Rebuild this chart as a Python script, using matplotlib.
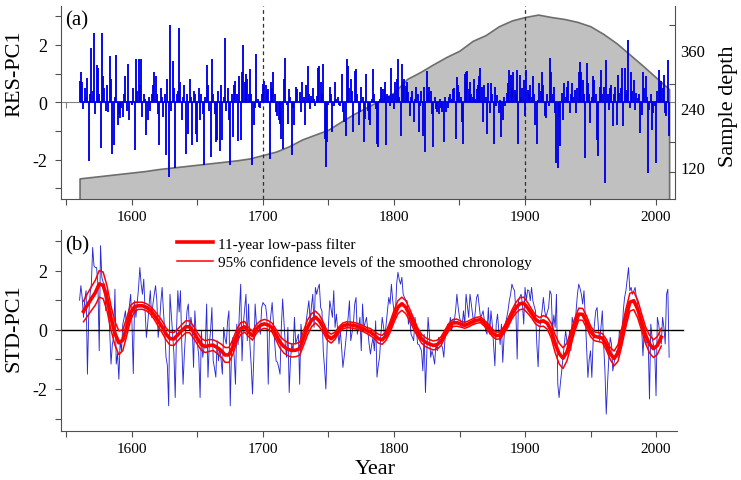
import numpy as np
import matplotlib
matplotlib.use("Agg")
import matplotlib.pyplot as plt

plt.rcParams['font.family'] = ['Liberation Serif', 'DejaVu Serif']
plt.rcParams['axes.unicode_minus'] = False

# ---- data ----
first_year = 1560

# (a) residual chronology, one value per year from 1560
res_pc1 = [
    0.75, 1.05, 0.7, -0.25, 0.5, 0.2, 0.85, -2.05, 0.3, 1.9,
    0.4, 2.4, -0.4, 1.3, 1.2, 0.3, -1.6, 2.4, 0.9, 0.5,
    -0.3, 0.6, -0.35, 1.6, 0.8, -1.8, -1.5, 0.2, 1.65, -0.8,
    -0.4, -0.55, -0.2, -0.5, 0.3, 0.9, -0.3, 1.35, -0.6, 0.05,
    -0.1, 0.5, -1.65, 1.5, 0.4, 1.5, 0.6, 1.5, -0.5, 0.3,
    0.1, -1.15, -0.6, 0.2, -0.3, 0.3, 0.6, 1.05, 0.9, 0.3,
    -0.4, -1.5, 0.5, 0.2, -0.5, 0.3, -1.85, 0.8, -2.6, 2.7,
    -0.3, 1.45, 0.5, -2.3, 0.3, 0.4, 2.6, 0.7, -0.6, 0.2,
    0.6, -1.8, 0.3, -1.1, 0.8, 0.2, -1.5, 0.4, 0.3, -1.1,
    -1.4, 0.5, -0.6, 0.3, -0.4, -2.2, 0.2, 1.3, 0.6, -0.3,
    -1.9, 1.5, 0.3, -0.4, -1.4, -1.3, 0.4, -1.7, 0.6, -1.3,
    0.2, 2.25, -0.3, 0.5, -0.6, -2.2, 0.3, -1.2, 0.6, 0.75,
    0.3, -1.35, 0.9, -1.3, 1.04, 2.0, 0.7, 1.0, 0.8, 0.3,
    1.15, 0.3, -2.2, -0.8, -0.2, 1.68, 0.1, -0.15, -0.2, 0.3,
    0.64, 0.75, 0.6, 0.4, 0.45, -1.97, 0.7, 0.5, 1.04, 0.3,
    -0.35, -0.46, -0.6, -0.75, -1.27, -1.62, 0.81, 1.56, -0.1, -0.75,
    0.45, 0.2, -1.85, -0.2, -0.8, 0.52, 0.45, 0.0, 0.35, -0.35,
    0.69, 0.2, -0.8, 0.6, 1.27, 0.3, -0.23, 0.23, 0.5, 0.1,
    -0.12, 0.23, 1.21, 1.27, 0.7, 0.3, 1.33, -1.27, -2.25, -1.4,
    -0.1, 0.52, 0.3, -1.04, -0.12, 0.69, 0.12, 0.2, -0.1, -0.12,
    0.98, -0.35, -0.7, -1.16, 1.5, 1.27, 0.5, 0.8, 0.4, -1.04,
    1.1, 1.16, 0.3, -0.8, -0.35, 0.52, 0.2, -1.39, -0.58, 0.98,
    -0.3, -0.6, -0.8, 0.1, 1.16, 0.3, -0.23, -1.45, -1.56, 0.1,
    0.52, 0.46, 0.46, 0.69, -1.5, 0.3, 0.23, -0.12, 1.21, 0.3,
    -0.23, 0.69, 0.81, 1.5, 0.2, -1.16, 1.33, 0.69, 0.81, 0.58,
    0.69, 0.35, -0.46, 0.2, 0.4, -0.69, 0.1, 0.52, 0.3, -1.04,
    -0.12, 0.4, -1.16, 0.52, -1.73, 1.1, 0.3, 0.52, 0.4, -0.4,
    -1.56, 0.2, -0.23, -0.35, -0.4, 0.1, -0.2, -0.35, -1.39, 0.2,
    -0.35, -0.2, 0.2, 0.29, 0.1, 0.46, 0.5, -1.27, 0.87, 0.6,
    0.35, 0.2, -0.7, -1.45, 1.0, 1.04, 1.1, 0.46, 0.69, 0.3,
    0.2, 0.8, 0.1, 0.46, 0.6, 0.9, 1.2,
    0.55, -0.7, 0.6, 0.2, -1.1, 0.66, -0.37, 0.67, 0.3, -1.45,
    0.55, -0.14, 0.25, -0.37, 0.09, -1.2, -0.6, 0.2, -0.14, 0.32,
    0.66, 1.13, 0.95, 0.5, 1.07, 0.44, 0.3, 1.13, -1.45, 0.95,
    0.2, 0.5, 0.78, -0.49, 1.13, 0.44, 0.3, 0.61, 0.2, 0.9,
    0.3, -0.78, -1.47, 0.09, 0.67, 0.4, 1.07, 0.61, -0.49, -0.55,
    0.3, -0.14, 1.53, 1.07, 0.3, 0.55, -0.37, -2.1, -2.28, -0.5,
    -1.53, 0.32, -0.6, 0.67, 0.2, 0.55, 0.73, -0.37, 0.3, 0.67,
    0.2, 0.44, -0.37, 0.5, 1.07, 1.42, 1.07, 0.78, 0.3, -1.93,
    1.36, 0.67, 0.3, -0.72, 0.2, 0.9, 0.78, 0.3, -1.3, -1.87,
    0.55, 1.13, 0.3, 0.55, -2.8, 1.49, 0.3, -0.26, 0.49, 0.61,
    -0.84, 0.3, 0.55, -0.78, 0.95, 0.32, 0.5, 1.2, -0.84, 1.2,
    0.3, 0.44, 2.16, -0.2, 1.07, 0.4, 0.78, -0.26, 0.32, 0.15,
    0.3, -1.07, -0.43, 1.07, 0.5, 0.9, 0.2, -2.45, -0.26, 0.3,
    -0.95, -0.37, -0.14, -2.1, 0.4, 1.13, 0.67, 0.73, 0.5, 0.95,
    -0.37, -0.49, 1.48, -1.18,
]

# (b) standard chronology, one value per year from 1560
std_pc1 = [
    1.0, 1.49, 1.09, 0.42, 1.04, 1.32, -1.5, 0.5, 1.2, 1.54,
    2.78, 2.16, 2.1, 2.1, 1.54, -0.71, 2.84, 1.77, 1.6, 1.54,
    0.64, 1.37, 0.7, -0.03, -1.16, -0.5, -0.26, 1.37, -1.16, -0.8,
    -1.67, -0.37, -0.71, 0.19, 0.4, 0.64, -0.03, 0.53, 0.8, 1.2,
    0.2, -1.48, 0.98, 0.42, 0.9, 1.4, 2.1, 1.54, 1.2, 1.71,
    0.64, -0.26, 0.19, 0.8, 1.32, 0.42, 0.87, 1.2, 1.49, 0.98,
    -0.26, 0.19, 0.9, 1.43, 0.64, -0.03, -0.93, -1.2, -2.57, 1.2,
    0.53, -0.15, -0.8, -2.29, -0.03, 1.32, 0.6, 1.32, -0.48, -1.84,
    -0.8, -0.03, 0.64, 0.87, -0.03, 0.42, 0.1, -1.27, 0.64, -0.15,
    -0.48, -0.9, -2.29, -0.03, -0.93, -0.6, -0.48, 0.87, -1.61, -0.5,
    -0.03, 0.75, -1.05, -1.3, -1.6, -0.37, -1.05, -0.6, -1.0, -1.5,
    0.08, -0.3, -0.48, 0.3, 0.64, -2.57, -0.71, -0.26, -0.9, -1.84,
    0.19, -0.5,
    0.64, 1.54, -1.05, 0.19, 0.7, 1.2, -0.37, 0.87, -0.48, -1.2,
    -2.17, -0.93, 0.87, 0.19, 0.1, 0.08, -0.15, 0.75, 0.92, 0.85,
    0.81, 0.42, -1.84, 0.08, 0.5, 0.92, 0.19, -0.48, -1.05, -1.1,
    -1.27, -1.5, 0.08, 1.04, 0.3, -0.48, -0.93, 0.08, -2.12, -1.0,
    -0.48, -0.71, 0.42, -0.48, -0.3, -0.15, -1.84, 0.19, -0.48, -0.3,
    -0.1, 0.3, 0.64, 0.98, 0.3, 0.8, 1.2, 0.08, 1.43, 1.2,
    1.4, 1.54, 0.75, 0.64, -0.71, -1.3, -2.0, -0.48, 0.19, 0.98,
    0.7, 0.42, 1.32, 0.08, 0.53, 0.0, -0.48, -0.03, -0.6, -1.27,
    -0.9, -0.48, 0.0, 0.42, 0.98, -0.37, -0.1, 0.19, 0.87, 1.09,
    -0.15, 0.1, 0.42, -0.71, 0.87, 0.08, 0.25, 0.42, -0.03, -0.48,
    -0.82, -0.5, -0.26, -0.71, 0.3, -1.6, -1.2, -0.93, -0.15, 0.42,
    0.1, -0.26, 0.2, 0.64, 1.09, 0.87, 1.54, 1.0, 0.64, 0.42,
    1.54, 1.94, 1.7, 1.54, 1.77, 1.2, 1.09, 1.0, 0.98, 0.19,
    0.42, -0.15, -0.25, -0.37, 0.42, 0.08, -0.48, -0.5, -0.6, -0.71,
    -1.39, -0.15, -2.12, -0.8, 0.42, -0.15, -0.93, -0.71, -0.9, -1.16,
    -0.48, -0.71, -0.26, -0.35, -0.48, -0.6, -0.93, -0.26, 0.0, 0.19,
    -0.03, 0.42, -0.03, 0.3, 0.3, 0.64, 1.2, 0.75, 0.42, 0.25,
    0.08, 0.64, 0.19, 1.2, 0.8, 0.42, 1.2, 0.87, 0.5, 0.19,
    0.6, 1.09, 1.2, 0.8, 0.42, 0.5, 0.64, 0.3, -0.03, -0.15,
    0.75, -0.15, 0.64, 0.19, -0.5, -1.22, 0.19, 0.53, -0.03, -0.5,
    0.19, -1.1, -0.26, 0.19, 0.4, 0.64, 0.98, 1.2, 1.54, 1.4,
    1.32, 0.64, -0.99, 0.98, 1.1, 1.2, 0.87, 0.19, 1.43, 1.0, 1.35,
    1.32, 0.98, 1.43, 0.98, 0.8, 0.64, -0.48, -1.25, -0.03, 0.3,
    0.64, 1.09, 0.64, 0.42, 0.6, 0.75, 1.32, 1.2, -0.03, 0.5,
    0.08, 1.2, -1.84, -2.29, -1.8, -1.39, -0.93, -0.48, -0.03, -0.4,
    -0.71, -0.03, -0.71, 0.42, 0.2, -0.03, 0.64, 1.2, 1.54, 1.4,
    1.2, 0.87, 1.32, 0.42, -0.6, -1.61, -1.0, -0.71, -1.61, -0.37, 0.2,
    0.64, 0.75, 0.08, -0.37, 0.1, 0.64, -0.48, -1.39, -2.85, -1.8,
    -0.93, -0.26, -0.48, -1.39, -1.1, -0.93, -0.71, -0.93, -0.03, -0.15,
    -0.26, 0.64, 1.09, 1.32, 1.7, 2.1, 1.32, 1.43, 1.2, 1.3,
    1.43, 1.09, 0.87, 0.42, 0.25, 0.08, -0.88, -0.03, -0.48, -0.4,
    -0.37, -2.34, 0.19, -0.26, -0.5, -0.71, -2.23, 0.42, 0.19, -0.2,
    -0.48, 0.42, 0.08, -0.48, 1.2, 1.37, -0.93,
]

# 11-year low-pass curve, read every 3 years from 1563
smooth_start, smooth_step = 1563, 3
lowpass = [
    0.62, 0.84, 1.05, 1.25, 1.55, 1.5, 1.05, 0.4, -0.12, -0.44,
    -0.35, 0.1, 0.58, 0.78, 0.81, 0.81, 0.76, 0.66, 0.5, 0.3,
    0.1, -0.14, -0.3, -0.31, -0.17, -0.03, 0.1, 0.1, -0.08, -0.3,
    -0.5, -0.57, -0.53, -0.52, -0.6, -0.7, -0.85, -0.85, -0.58, -0.2,
    0.04, 0.1, -0.08, -0.2, 0.03, 0.15, 0.2, 0.16, 0.07, -0.17,
    -0.42, -0.57, -0.66, -0.7, -0.69, -0.64, -0.28, 0.08, 0.32, 0.43,
    0.3, 0.08, -0.2, -0.3, -0.2, 0.0, 0.13, 0.17, 0.16, 0.14,
    0.1, 0.05, -0.02, -0.08, -0.18, -0.3, -0.34, -0.2, 0.09, 0.45,
    0.76, 0.88, 0.76, 0.5, 0.2, -0.08, -0.3, -0.42, -0.48, -0.53,
    -0.5, -0.38, -0.12, 0.1, 0.23, 0.24, 0.19, 0.15, 0.2, 0.27,
    0.32, 0.34, 0.22, 0.07, -0.1, -0.2, -0.19, 0.0, 0.24, 0.52,
    0.74, 0.88, 0.9, 0.74, 0.55, 0.35, 0.26, 0.3, 0.22, -0.03,
    -0.47, -0.8, -0.96, -0.75, -0.3, 0.17, 0.53, 0.52, 0.26, -0.05,
    -0.22, -0.25, -0.28, -0.5, -0.8, -0.97, -0.78, -0.22, 0.4, 0.93,
    0.98, 0.7, 0.26, -0.18, -0.48, -0.64, -0.53, -0.25,
]
# half width of the 95% band, same years
ci_half = [
    0.35, 0.38, 0.4, 0.42, 0.45, 0.45, 0.42, 0.4, 0.4, 0.4,
    0.35, 0.3, 0.25, 0.15, 0.12, 0.12, 0.12, 0.13, 0.15, 0.18,
    0.2, 0.2, 0.22, 0.22, 0.2, 0.2, 0.2, 0.2, 0.2, 0.2,
    0.2, 0.2, 0.2, 0.18, 0.2, 0.22, 0.25, 0.25, 0.25, 0.22,
    0.2, 0.18, 0.15, 0.15, 0.15, 0.15, 0.15, 0.15, 0.15, 0.18,
    0.2, 0.22, 0.22, 0.22, 0.22, 0.22, 0.25, 0.25, 0.22, 0.2,
    0.2, 0.18, 0.15, 0.15, 0.12, 0.1, 0.1, 0.1, 0.1, 0.1,
    0.1, 0.1, 0.1, 0.12, 0.12, 0.15, 0.15, 0.15, 0.18, 0.2,
    0.22, 0.22, 0.22, 0.2, 0.18, 0.15, 0.15, 0.15, 0.15, 0.15,
    0.15, 0.15, 0.12, 0.12, 0.12, 0.12, 0.1, 0.1, 0.1, 0.1,
    0.1, 0.1, 0.1, 0.12, 0.12, 0.12, 0.12, 0.12, 0.15, 0.15,
    0.18, 0.2, 0.2, 0.18, 0.15, 0.15, 0.15, 0.18, 0.2, 0.25,
    0.3, 0.35, 0.35, 0.3, 0.25, 0.22, 0.2, 0.2, 0.2, 0.18,
    0.15, 0.15, 0.15, 0.18, 0.2, 0.25, 0.28, 0.3, 0.3, 0.3,
    0.3, 0.3, 0.28, 0.28, 0.3, 0.3, 0.3, 0.3,
]

# sample depth every 10 years from 1560
depth_step = 10
sample_depth = [
    96, 99, 102, 105, 108, 111, 115, 118, 121, 124,
    127, 130, 133, 137, 144, 151, 162, 176, 186, 196,
    213, 229, 243, 257, 272, 300, 314, 330, 345, 358,
    378, 390, 408, 420, 427, 432, 427, 423, 417, 408,
    392, 373, 350, 327, 303, 279,
]

marked_years = [1700, 1900]
major_years = [1600, 1700, 1800, 1900, 2000]
minor_years = [1550, 1650, 1750, 1850, 1950]

years = first_year + np.arange(len(res_pc1))
std_years = first_year + np.arange(len(std_pc1))
smooth_years = smooth_start + smooth_step * np.arange(len(lowpass))
lowpass = np.array(lowpass)
ci_half = np.array(ci_half)
depth_years = first_year + depth_step * np.arange(len(sample_depth))

W, H = 741, 481
fig = plt.figure(figsize=(W / 100, H / 100), dpi=100)


def px_axes(l, t, r, b):
    return fig.add_axes([l / W, 1 - b / H, (r - l) / W, (b - t) / H])


spine_c = '#505050'
blue = '#0000e8'
red = '#ff0000'

# ---------- panel (a) ----------
ax_a = px_axes(60.7, 7, 675, 200)
ax_d = ax_a.twinx()
ax_a.set_zorder(ax_d.get_zorder() + 1)
ax_a.patch.set_visible(False)

ax_d.fill_between(depth_years, sample_depth, 0, facecolor='#c0c0c0',
                  edgecolor='#6e6e6e', linewidth=1.2)
ax_d.set_ylim(53.7, 449.6)
ax_d.set_yticks([120, 240, 360])
ax_d.set_yticks([110, 170, 290, 410], minor=True)
ax_d.tick_params(axis='y', which='major', length=0, labelsize=12, pad=4)
ax_d.tick_params(axis='y', which='minor', direction='in', length=4,
                 width=0.8, color=spine_c)
for s in ['top', 'left', 'bottom']:
    ax_d.spines[s].set_visible(False)
ax_d.spines['right'].set_color(spine_c)

ax_a.axhline(0, color='#808080', lw=0.8, zorder=1)
ax_a.plot([minor_years[0]], [0], marker=3, ms=4, mew=0.8, color='#808080',
          zorder=1)
for yr in marked_years:
    ax_a.axvline(yr, color='#303030', lw=0.9, ls=(0, (3, 2.5)), zorder=2)
ax_a.vlines(years, 0, res_pc1, colors=blue, lw=1.35, zorder=3)
ax_a.hlines(0, years[0], years[-1], colors=blue, lw=1.3, zorder=3)

ax_a.set_xlim(1545.6, 2014.5)
ax_a.set_ylim(-3.369, 3.355)
ax_a.set_yticks([-2, 0, 2])
ax_a.set_yticks([-3, -1, 1, 3], minor=True)
ax_a.set_xticks(major_years)
ax_a.set_xticks(minor_years, minor=True)
for s in ['top', 'right']:
    ax_a.spines[s].set_visible(False)

# ---------- panel (b) ----------
ax_b = px_axes(60.7, 230.7, 677, 432.3)
ax_b.plot(std_years, std_pc1, color='#2a2ad8', lw=0.65, zorder=2)
ax_b.axhline(0, color='black', lw=1.0, xmax=1.0097, clip_on=False, zorder=2.5)
ax_b.plot(smooth_years, lowpass + ci_half, color=red, lw=1.1, zorder=3)
ax_b.plot(smooth_years, lowpass - ci_half, color=red, lw=1.1, zorder=3)
ax_b.plot(smooth_years, lowpass, color=red, lw=2.6, zorder=4)

ax_b.set_xlim(1545.6, 2016.0)
ax_b.set_ylim(-3.43, 3.38)
ax_b.set_yticks([-2, 0, 2])
ax_b.set_yticks([-3, -1, 1, 3], minor=True)
ax_b.set_xticks(major_years)
ax_b.set_xticks(minor_years, minor=True)
for s in ['top', 'right']:
    ax_b.spines[s].set_visible(False)

legend_handles = [
    plt.Line2D([], [], color=red, lw=2.6),
    plt.Line2D([], [], color=red, lw=1.1),
]
ax_b.legend(legend_handles,
            ['11-year low-pass filter',
             '95% confidence levels of the smoothed chronology'],
            loc='upper left', bbox_to_anchor=(0.1887, 0.964), frameon=False,
            fontsize=11, handlelength=2.35, handletextpad=0.33,
            labelspacing=0.3, borderpad=0, borderaxespad=0)

for ax in (ax_a, ax_b):
    for s in ['left', 'bottom']:
        ax.spines[s].set_color(spine_c)
    ax.tick_params(axis='y', which='both', direction='out', length=4,
                   width=0.8, color=spine_c)
    ax.tick_params(axis='y', which='major', labelsize=13, pad=6)
    ax.tick_params(axis='x', which='both', direction='out', length=4,
                   width=0.8, color=spine_c)
    ax.tick_params(axis='x', which='major', labelsize=11, pad=4)

# ---------- text ----------
fig.text(14.5 / W, 1 - 74 / H, 'RES-PC1', rotation=90, ha='center',
         va='center', fontsize=16)
fig.text(14.5 / W, 1 - 328 / H, 'STD-PC1', rotation=90, ha='center',
         va='center', fontsize=16)
fig.text(728 / W, 1 - 106.7 / H, 'Sample depth', rotation=90, ha='center',
         va='center', fontsize=16)
fig.text(375 / W, 1 - 470 / H, 'Year', ha='center', va='center', fontsize=16)
fig.text(77 / W, 1 - 21 / H, '(a)', ha='center', va='center', fontsize=15)
fig.text(77 / W, 1 - 246 / H, '(b)', ha='center', va='center', fontsize=15)

fig.savefig('out.png', dpi=100)
